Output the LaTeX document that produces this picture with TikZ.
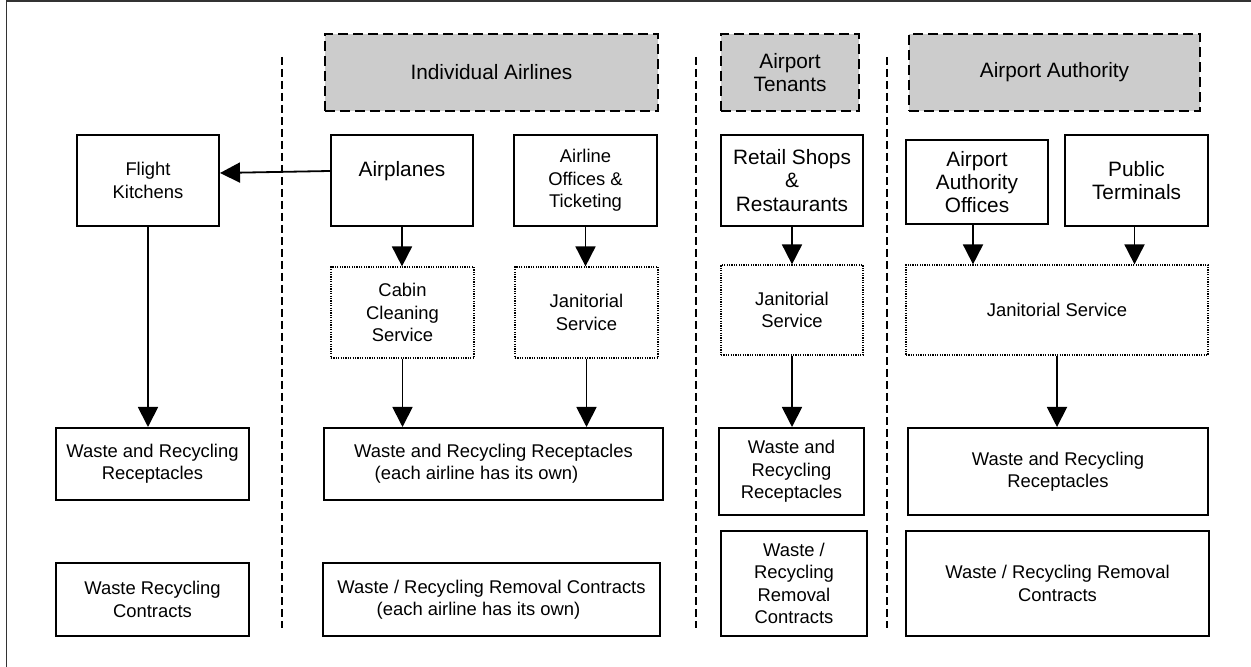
\documentclass[tikz,border=0pt]{standalone}
\usepackage{fontspec}
\setmainfont{Liberation Sans}
\usetikzlibrary{arrows.meta}

\begin{document}
\begin{tikzpicture}[x = 0.5pt,y = -0.5pt]
            % Define styles - one unit is one pixel of the sketch, y runs downwards
            \tikzstyle{small} = [font=\fontsize{9.2pt}{11.2pt}\selectfont]
            \tikzstyle{big} = [font=\fontsize{10.4pt}{11.6pt}\selectfont]
            \tikzstyle{unitbox} = [draw,line width=1pt,fill=white,shape=rectangle,align=center,inner sep=2pt]
            \tikzstyle{servicebox} = [draw,line width=0.6pt,dash pattern=on 0.6pt off 0.6pt,fill=white,shape=rectangle,align=center,inner sep=2pt]
            \tikzstyle{ownerbox} = [draw,line width=1pt,dash pattern=on 5pt off 2.5pt,fill=black!20,shape=rectangle,align=center,inner sep=2pt]
            \tikzstyle{divider} = [line width=0.75pt,dash pattern=on 4pt off 2pt]
            \tikzstyle{flow} = [line width=0.9pt,-{Triangle[length=10pt,width=10pt]}]
            \useasboundingbox (0,0) rectangle (1251,667);
            % Frame
                \draw [line width=0.9pt,black!80] (6.5,667) -- (6.5,1) -- (1251,1);
            % Column dividers
                \draw [divider] (282,57) -- (282,628);
                \draw [divider] (696,57) -- (696,628);
                \draw [divider] (887,57) -- (887,628);
            % Owners
                \node (ownAir) at (491.5,72.5) [ownerbox,big,minimum width=166.5pt,minimum height=38.5pt]{Individual Airlines};
                \node (ownTen) at (790,72.5) [ownerbox,big,minimum width=69pt,minimum height=38.5pt]{Airport\\Tenants};
                \node (ownAuth) at (1054.5,72.5) [ownerbox,big,minimum width=145.5pt,minimum height=38.5pt]{Airport Authority};
            % Sources
                % Caterers
                \node (kitchens) at (148,180.5) [unitbox,small,minimum width=71pt,minimum height=45.5pt]{Flight\\Kitchens};
                % Airlines
                \node (planes) at (402,180.5) [unitbox,big,minimum width=71pt,minimum height=45.5pt]{Airplanes\\ ~};
                \node (offices) at (585.5,180.5) [unitbox,small,minimum width=71.5pt,minimum height=45.5pt]{Airline\\Offices \&\\Ticketing};
                % Tenants
                \node (retail) at (792,180.5) [unitbox,big,minimum width=71pt,minimum height=45.5pt]{Retail Shops\\\&\\Restaurants};
                % Authority
                \node (aaoffices) at (977,182) [unitbox,big,minimum width=71pt,minimum height=42pt]{Airport\\Authority\\Offices};
                \node (terminals) at (1136.5,180.5) [unitbox,big,minimum width=71.5pt,minimum height=45.5pt]{Public\\Terminals};
            % Cleaning services
                \node (cabin) at (402.5,312.5) [servicebox,small,minimum width=71.5pt,minimum height=45.5pt]{Cabin\\Cleaning\\Service};
                \node (janAir) at (586.5,312.5) [servicebox,small,minimum width=71.5pt,minimum height=45.5pt]{Janitorial\\Service};
                \node (janTen) at (792,310) [servicebox,small,minimum width=71pt,minimum height=45pt]{Janitorial\\Service};
                \node (janAuth) at (1057,310) [servicebox,small,minimum width=151pt,minimum height=45pt]{Janitorial Service};
            % Receptacles
                \node (binLeft) at (152.5,464) [unitbox,small,minimum width=96.5pt,minimum height=36pt]{Waste and Recycling\\Receptacles};
                \node (binAir) at (493.5,464) [unitbox,small,minimum width=169.5pt,minimum height=36pt]{Waste and Recycling Receptacles\\(each airline has its own)\hspace*{17pt}};
                \node (binTen) at (791.5,471.5) [unitbox,small,minimum width=72.5pt,minimum height=43.5pt]{Waste and\\Recycling\\Receptacles};
                \node (binAuth) at (1058,471.5) [unitbox,small,minimum width=150pt,minimum height=43.5pt]{Waste and Recycling\\Receptacles};
            % Contracts
                \node (dealLeft) at (152.5,599.5) [unitbox,small,minimum width=96.5pt,minimum height=36.5pt]{Waste Recycling\\Contracts};
                \node (dealAir) at (491.5,599.5) [unitbox,small,minimum width=168.5pt,minimum height=36.5pt]{Waste / Recycling Removal Contracts\\(each airline has its own)\hspace*{13pt}};
                \node (dealTen) at (794,583.5) [unitbox,small,minimum width=73pt,minimum height=52.5pt]{Waste /\\Recycling\\Removal\\Contracts};
                \node (dealAuth) at (1057.5,583.5) [unitbox,small,minimum width=151.5pt,minimum height=52.5pt]{Waste / Recycling Removal\\Contracts};
            % Arrows
                % Airplanes to flight kitchens
                    \draw [flow] ([yshift=4.75pt]planes.west) -- ([yshift=3.75pt]kitchens.east);
                % Sources to cleaning services
                    \draw [flow] (planes.south) -- (planes.south |- cabin.north);
                    \draw [flow] (offices.south) -- (offices.south |- janAir.north);
                    \draw [flow] (retail.south) -- (retail.south |- janTen.north);
                    \draw [flow] ([xshift=-2pt]aaoffices.south) -- ([xshift=-2pt]aaoffices.south |- janAuth.north);
                    \draw [flow] ([xshift=-1pt]terminals.south) -- ([xshift=-1pt]terminals.south |- janAuth.north);
                % Down to receptacles
                    \draw [flow] (kitchens.south) -- (kitchens.south |- binLeft.north);
                    \draw [flow] (cabin.south) -- (cabin.south |- binAir.north);
                    \draw [flow] (janAir.south) -- (janAir.south |- binAir.north);
                    \draw [flow] (janTen.south) -- (janTen.south |- binTen.north);
                    \draw [flow] (janAuth.south) -- (janAuth.south |- binAuth.north);
        \end{tikzpicture}
\end{document}
